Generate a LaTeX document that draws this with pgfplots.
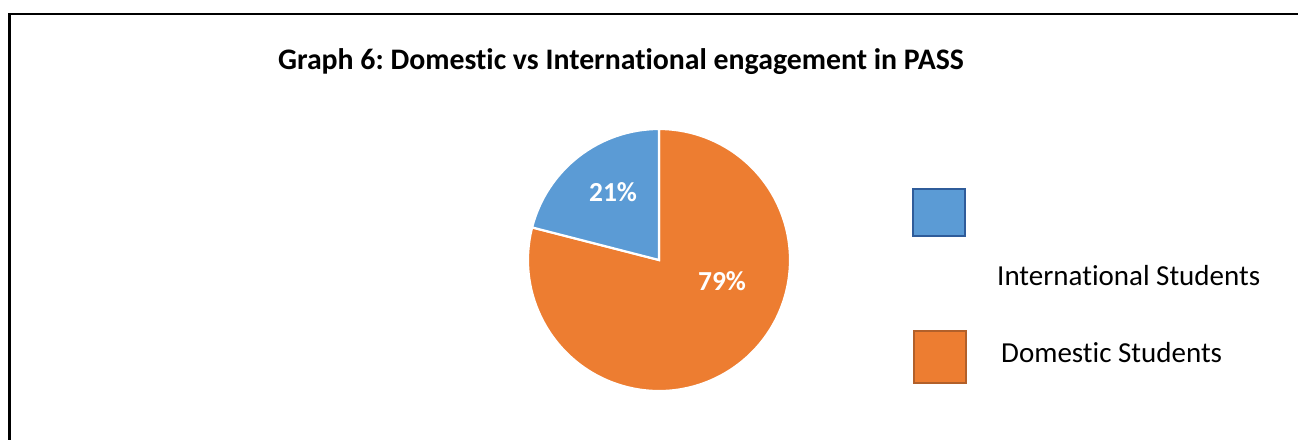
\documentclass[border=0pt]{standalone}
\usepackage{pgfplots}
\pgfplotsset{compat=1.18}
\usepackage{pgfplotstable}
\usepackage{fontspec}
\setmainfont{Carlito}[Ligatures=NoCommon]
\frenchspacing
\definecolor{intblue}{HTML}{5B9BD5}
\definecolor{intborder}{HTML}{2F5C9A}
\definecolor{domorange}{HTML}{ED7D31}
\definecolor{domborder}{HTML}{B2602A}
\pgfplotstableread{
label value
International 21
Domestic 79
}\piedata
\begin{document}
\begin{tikzpicture}[x=1pt,y=1pt]
\pgfplotstablegetelem{0}{value}\of\piedata
\pgfmathtruncatemacro{\vInt}{\pgfplotsretval}
\pgfplotstablegetelem{1}{value}\of\piedata
\pgfmathtruncatemacro{\vDom}{\pgfplotsretval}
\pgfmathsetmacro{\aA}{90}
\pgfmathsetmacro{\aB}{90+\vInt*3.6}
\pgfmathsetmacro{\aC}{\aB+\vDom*3.6}
\useasboundingbox (0,0) rectangle (1298,-439);
\draw[line width=2.2pt, black] (9.5,-445) -- (9.5,-14) -- (1305,-14);
\node[font=\bfseries\fontsize{29.8}{33}\selectfont, anchor=base, inner sep=0pt] at (621,-69) {Graph 6: Domestic vs International engagement in PASS};
\begin{axis}[at={(659pt,-260pt)}, anchor=center, scale only axis,
  width=262pt, height=262pt, xmin=-1, xmax=1, ymin=-1, ymax=1,
  hide axis, clip=false]
\fill[domorange, draw=white, line width=2.2pt] (axis cs:0,0) -- ({axis cs:{cos(\aB)},{sin(\aB)}}) arc[start angle=\aB, end angle=\aC, radius=131pt] -- cycle;
\fill[intblue, draw=white, line width=2.2pt] (axis cs:0,0) -- (axis cs:0,1) arc[start angle=\aA, end angle=\aB, radius=131pt] -- cycle;
\node[font=\bfseries\fontsize{27.5}{30}\selectfont, text=white, anchor=base, inner sep=0pt] at (axis cs:-0.351,0.450) {\vInt\%};
\node[font=\bfseries\fontsize{27.5}{30}\selectfont, text=white, anchor=base, inner sep=0pt] at (axis cs:0.481,-0.229) {\vDom\%};
\end{axis}
\fill[intblue, draw=intborder, line width=2pt] (913,-189) rectangle (964.5,-235.5);
\node[font=\fontsize{29}{32}\selectfont, anchor=base west, inner sep=0pt] at (997,-285) {International Students};
\fill[domorange, draw=domborder, line width=2pt] (914,-331) rectangle (965.5,-382.5);
\node[font=\fontsize{29}{32}\selectfont, anchor=base west, inner sep=0pt] at (1001,-362.7) {Domestic Students};
\end{tikzpicture}
\end{document}
